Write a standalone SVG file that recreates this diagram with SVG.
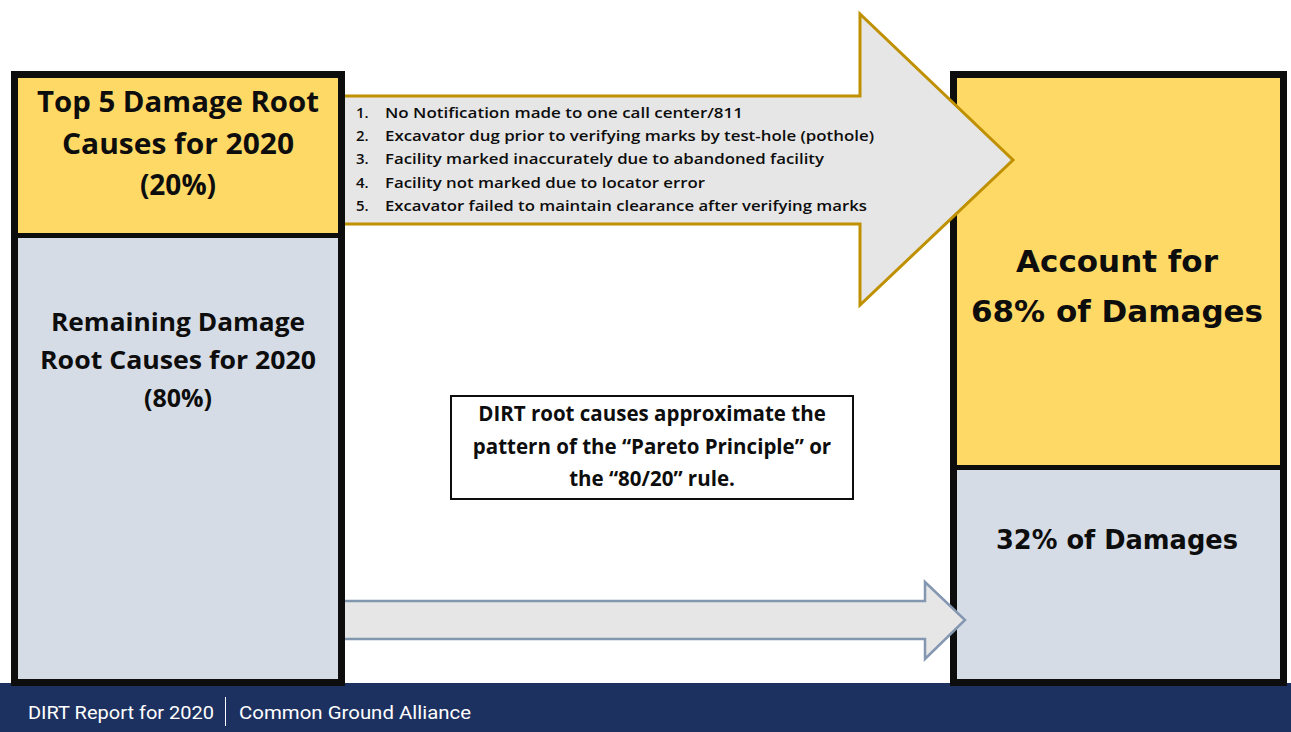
<svg xmlns="http://www.w3.org/2000/svg" width="1291" height="732" viewBox="0 0 1291 732">
  <style>
    .frame { fill: none; stroke: #0d0d0d; stroke-width: 7; }
    .split { stroke: #0d0d0d; stroke-width: 5; }
    .gold { fill: #ffd966; }
    .slate { fill: #d6dce5; }
    .t { font-family: "Open Sans", "Liberation Sans", sans-serif; font-weight: 700; fill: #0d0d0d; text-anchor: middle; }
    .v { font-family: "DejaVu Sans", Verdana, sans-serif; font-weight: 700; fill: #0d0d0d; text-anchor: middle; }
    .li { font-family: "Open Sans", "Liberation Sans", sans-serif; font-weight: 600; font-size: 15px; fill: #0d0d0d; }
    .foot { font-family: Roboto, "Liberation Sans", sans-serif; font-size: 19px; fill: #ffffff; }
  </style>

  <rect width="1291" height="732" fill="#ffffff"/>

  <!-- footer band -->
  <g id="footer">
    <rect x="0" y="683" width="1291" height="49" fill="#1d3160"/>
    <text class="foot" x="28" y="719" textLength="186" lengthAdjust="spacingAndGlyphs">DIRT Report for 2020</text>
    <line x1="225.5" y1="697" x2="225.5" y2="726" stroke="#ffffff" stroke-width="1"/>
    <text class="foot" x="239" y="719" textLength="232" lengthAdjust="spacingAndGlyphs">Common Ground Alliance</text>
  </g>

  <!-- outcome column -->
  <g id="outcome">
    <rect class="gold" x="957" y="78" width="323" height="389"/>
    <rect class="slate" x="957" y="468" width="323" height="211"/>
    <line class="split" x1="953" y1="467.5" x2="1284" y2="467.5"/>
    <rect class="frame" x="953.5" y="74.5" width="330" height="608"/>
    <text class="v" x="1117" y="272" font-size="31">Account for</text>
    <text class="v" x="1117" y="322" font-size="31">68% of Damages</text>
    <text class="v" x="1117" y="549" font-size="25.7">32% of Damages</text>
  </g>

  <!-- connectors -->
  <g id="connectors">
    <path d="M340,96 H860 V14 L1013,160 L860,305 V224 H340 Z" fill="#e6e6e6" stroke="#bf9000" stroke-width="3" stroke-linejoin="miter"/>
    <path d="M340,601 H925 V582 L965,620 L925,659 V639 H340 Z" fill="#e6e6e6" stroke="#8497b0" stroke-width="2.5"/>
  </g>

  <!-- cause list carried by the upper arrow -->
  <g id="cause-list">
    <text class="li" x="356" y="118">1.</text>
    <text class="li" x="385" y="118" textLength="358" lengthAdjust="spacingAndGlyphs">No Notification made to one call center/811</text>
    <text class="li" x="356" y="141">2.</text>
    <text class="li" x="385" y="141" textLength="489" lengthAdjust="spacingAndGlyphs">Excavator dug prior to verifying marks by test-hole (pothole)</text>
    <text class="li" x="356" y="164">3.</text>
    <text class="li" x="385" y="164" textLength="439" lengthAdjust="spacingAndGlyphs">Facility marked inaccurately due to abandoned facility</text>
    <text class="li" x="356" y="188">4.</text>
    <text class="li" x="385" y="188" textLength="320" lengthAdjust="spacingAndGlyphs">Facility not marked due to locator error</text>
    <text class="li" x="356" y="211">5.</text>
    <text class="li" x="385" y="211" textLength="482" lengthAdjust="spacingAndGlyphs">Excavator failed to maintain clearance after verifying marks</text>
  </g>

  <!-- cause column -->
  <g id="causes">
    <rect class="gold" x="18" y="78" width="320" height="157"/>
    <rect class="slate" x="18" y="236" width="320" height="443"/>
    <line class="split" x1="14" y1="235.5" x2="342" y2="235.5"/>
    <rect class="frame" x="14.5" y="74.5" width="327" height="608"/>
    <text class="t" x="178" y="112" font-size="28" textLength="282" lengthAdjust="spacingAndGlyphs">Top 5 Damage Root</text>
    <text class="t" x="178" y="154" font-size="28" textLength="232" lengthAdjust="spacingAndGlyphs">Causes for 2020</text>
    <text class="t" x="178" y="195" font-size="28">(20%)</text>
    <text class="t" x="178" y="331" font-size="25" textLength="254" lengthAdjust="spacingAndGlyphs">Remaining Damage</text>
    <text class="t" x="178" y="369" font-size="25" textLength="276" lengthAdjust="spacingAndGlyphs">Root Causes for 2020</text>
    <text class="t" x="178" y="407" font-size="25">(80%)</text>
  </g>

  <!-- note -->
  <g id="note">
    <rect x="451" y="396" width="402" height="103" fill="#ffffff" stroke="#0d0d0d" stroke-width="2"/>
    <text class="t" x="652" y="421" font-size="20.5">DIRT root causes approximate the</text>
    <text class="t" x="652" y="454" font-size="20.5">pattern of the “Pareto Principle” or</text>
    <text class="t" x="652" y="486" font-size="20.5">the “80/20” rule.</text>
  </g>
</svg>
